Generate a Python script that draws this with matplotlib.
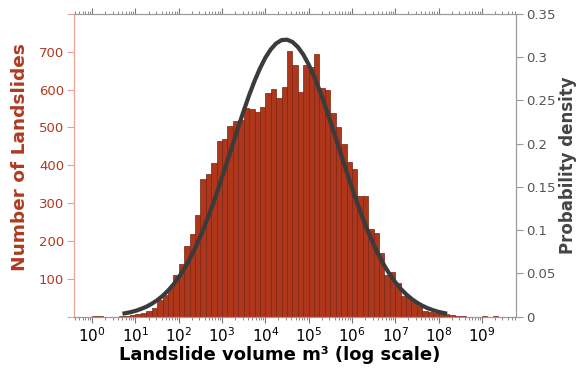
import numpy as np
import matplotlib
matplotlib.use('Agg')
import matplotlib.pyplot as plt
from matplotlib.ticker import LogLocator, NullFormatter, FixedLocator

# histogram: left bin edges in log10(m^3), bin width in log10, counts
bin_lo_start = 0.0
bin_step = 0.125
counts = [1, 1, 0, 0, 0, 1, 2, 4,
          7, 10, 14, 24, 44, 58, 77, 110,
          139, 186, 218, 270, 364, 376, 406, 464,
          470, 503, 518, 521, 552, 549, 542, 553,
          592, 601, 577, 608, 703, 665, 595, 666,
          659, 695, 604, 598, 539, 502, 457, 408,
          389, 318, 318, 233, 222, 167, 110, 118,
          90, 54, 54, 40, 28, 14, 12, 11,
          9, 7, 5, 2, 3, 0, 0, 0,
          2, 0, 1]

# fitted density curve (x in log10 m^3)
curve_log_v = [0.7, 0.875, 1.0, 1.125, 1.25, 1.375, 1.5, 1.625, 1.75, 1.875,
               2.0, 2.125, 2.25, 2.375, 2.5, 2.625, 2.75, 2.875, 3.0, 3.125,
               3.25, 3.375, 3.5, 3.625, 3.75, 3.875, 4.0, 4.125, 4.25, 4.375,
               4.5, 4.625, 4.75, 4.875, 5.0, 5.125, 5.25, 5.375, 5.5, 5.625,
               5.75, 5.875, 6.0, 6.125, 6.25, 6.375, 6.5, 6.625, 6.75, 6.875,
               7.0, 7.125, 7.25, 7.375, 7.5, 7.625, 7.75, 7.875, 8.0, 8.125, 8.2]
curve_dens = [0.0034, 0.0051, 0.0067, 0.0089, 0.0115, 0.0149, 0.0190, 0.0240, 0.0300, 0.0371,
              0.0455, 0.0552, 0.0663, 0.0789, 0.0928, 0.1082, 0.1248, 0.1425, 0.1611, 0.1804,
              0.1999, 0.2192, 0.2381, 0.2560, 0.2724, 0.2870, 0.2994, 0.3091, 0.3160, 0.3198,
              0.3203, 0.3177, 0.3119, 0.3032, 0.2917, 0.2779, 0.2621, 0.2446, 0.2261, 0.2069,
              0.1874, 0.1680, 0.1491, 0.1311, 0.1140, 0.0982, 0.0837, 0.0707, 0.0590, 0.0488,
              0.0400, 0.0324, 0.0260, 0.0207, 0.0163, 0.0127, 0.0098, 0.0075, 0.0056, 0.0042, 0.0035]

left_ticks = [0, 100, 200, 300, 400, 500, 600, 700, 800]
left_labels = ['', '100', '200', '300', '400', '500', '600', '700', '']
right_ticks = [0, 0.05, 0.1, 0.15, 0.2, 0.25, 0.3, 0.35]
right_labels = ['0', '0.05', '0.1', '0.15', '0.2', '0.25', '0.3', '0.35']

RUST = '#ad361b'
RUST_TXT = '#b03a22'
GREY = '#9a9a9a'


def main():
    fig = plt.figure(figsize=(5.79, 3.71), dpi=100)
    ax = fig.add_axes([0.1278, 0.1464, 0.7634, 0.8159])

    lo = bin_lo_start + bin_step * np.arange(len(counts))
    left = 10 ** lo
    width = 10 ** (lo + bin_step) - left
    ax.bar(left, counts, width=width, align='edge', color=RUST,
           edgecolor='#7a2412', linewidth=0.5)

    ax.set_xscale('log')
    ax.set_xlim(10 ** -0.42, 10 ** 9.79)
    ax.set_ylim(0, 800)
    ax.xaxis.set_major_locator(FixedLocator([10.0 ** k for k in range(10)]))
    ax.xaxis.set_minor_locator(LogLocator(base=10, subs=np.arange(2, 10), numticks=30))
    ax.xaxis.set_minor_formatter(NullFormatter())
    ax.tick_params(axis='x', which='major', length=4, width=0.8, color='#777777',
                   labelsize=11, pad=3, top=True, direction='out')
    ax.tick_params(axis='x', which='minor', length=2, width=0.6, color='#777777',
                   top=True, direction='out')

    ax.set_yticks(left_ticks)
    ax.set_yticklabels(left_labels)
    ax.tick_params(axis='y', length=5, width=0.8, color='#e6a397', labelcolor=RUST_TXT,
                   labelsize=9.5, pad=2)

    ax.spines['left'].set_color('#e6a397')
    for s in ('top', 'bottom', 'right'):
        ax.spines[s].set_color(GREY)

    ax.set_ylabel('Number of Landslides', color=RUST_TXT, fontsize=13.3,
                  fontweight='bold', labelpad=7)
    ax.yaxis.label.set_y(0.527)
    ax.set_xlabel('Landslide volume m³ (log scale)', fontsize=13,
                  fontweight='bold', color='black')
    ax.xaxis.set_label_coords(0.466, -0.098)

    ax2 = ax.twinx()
    ax2.plot(10 ** np.array(curve_log_v), curve_dens, color='#3b3b3b', linewidth=3,
             solid_capstyle='butt')
    ax2.set_ylim(0, 0.35)
    ax2.set_yticks(right_ticks)
    ax2.set_yticklabels(right_labels)
    ax2.tick_params(axis='y', length=5, width=0.8, color=GREY, labelcolor='#555555',
                    labelsize=9.5, pad=2)
    ax2.spines['right'].set_color(GREY)
    ax2.spines['left'].set_color('#e6a397')
    ax2.spines['top'].set_color(GREY)
    ax2.spines['bottom'].set_color(GREY)
    ax2.set_ylabel('Probability density', color='#444444', fontsize=12,
                   fontweight='bold', labelpad=3)

    fig.savefig('out.png', dpi=100)


main()
